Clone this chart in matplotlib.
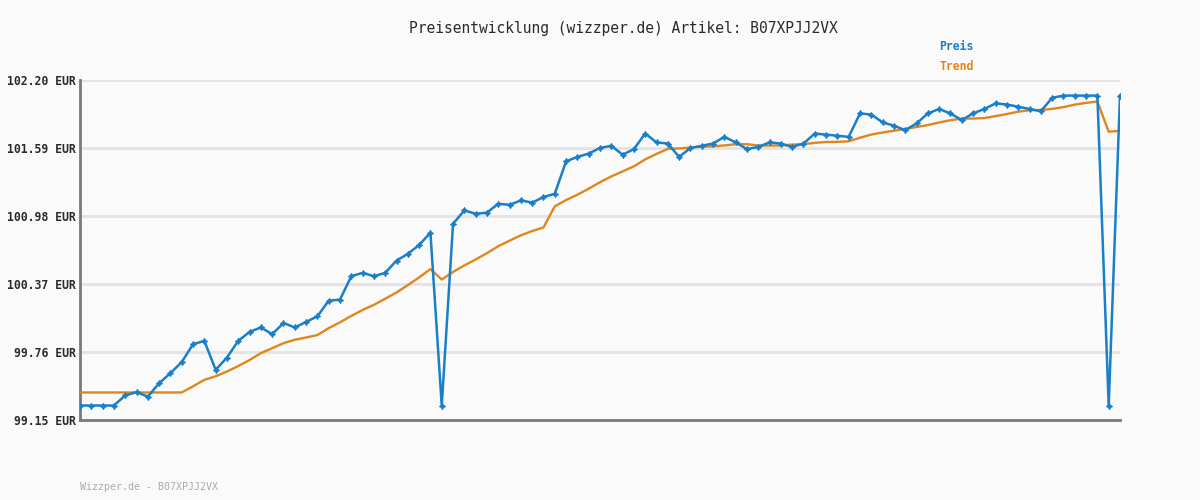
import matplotlib
matplotlib.use("Agg")
import matplotlib.pyplot as plt
from matplotlib.ticker import FixedLocator, FixedFormatter

title = "Preisentwicklung (wizzper.de) Artikel: B07XPJJ2VX"
footer = "Wizzper.de - B07XPJJ2VX"
legend_labels = ["Preis", "Trend"]
y_ticks = [99.15, 99.76, 100.37, 100.98, 101.59, 102.20]
y_tick_labels = ["99.15 EUR", "99.76 EUR", "100.37 EUR", "100.98 EUR", "101.59 EUR", "102.20 EUR"]

preis = [
    99.28, 99.28, 99.28, 99.28, 99.37, 99.40, 99.36, 99.48, 99.57, 99.67,
    99.83, 99.86, 99.60, 99.71, 99.86, 99.94, 99.98, 99.92, 100.02, 99.98,
    100.03, 100.08, 100.22, 100.23, 100.44, 100.47, 100.44, 100.47, 100.58, 100.64,
    100.72, 100.83, 99.28, 100.91, 101.03, 101.00, 101.01, 101.09, 101.08, 101.12,
    101.10, 101.15, 101.18, 101.47, 101.51, 101.54, 101.59, 101.61, 101.53, 101.58,
    101.72, 101.64, 101.63, 101.51, 101.59, 101.61, 101.63, 101.69, 101.64, 101.58,
    101.60, 101.64, 101.63, 101.60, 101.63, 101.72, 101.71, 101.70, 101.69, 101.90,
    101.89, 101.82, 101.79, 101.75, 101.81, 101.90, 101.94, 101.90, 101.84, 101.90,
    101.94, 101.99, 101.98, 101.96, 101.94, 101.92, 102.04, 102.06, 102.06, 102.06,
    102.06, 99.28, 102.06,
]

trend = [
    99.397, 99.397, 99.397, 99.397, 99.397, 99.397, 99.397, 99.397, 99.397, 99.397,
    99.452, 99.510, 99.542, 99.585, 99.634, 99.688, 99.750, 99.794, 99.839, 99.870,
    99.890, 99.912, 99.974, 100.026, 100.084, 100.137, 100.183, 100.238, 100.294, 100.360,
    100.429, 100.504, 100.410, 100.478, 100.537, 100.590, 100.647, 100.709, 100.759, 100.807,
    100.845, 100.877, 101.067, 101.123, 101.171, 101.225, 101.283, 101.335, 101.380, 101.426,
    101.488, 101.537, 101.582, 101.586, 101.594, 101.601, 101.605, 101.613, 101.624, 101.624,
    101.612, 101.612, 101.612, 101.621, 101.625, 101.636, 101.644, 101.645, 101.650, 101.682,
    101.711, 101.729, 101.745, 101.760, 101.778, 101.796, 101.819, 101.839, 101.854, 101.854,
    101.859, 101.876, 101.895, 101.916, 101.929, 101.931, 101.941, 101.957, 101.979, 101.995,
    102.007, 101.736, 101.744,
]

blue = "#1a7fc9"
orange = "#e0861c"
bg = "#fafafa"
mono = "DejaVu Sans Mono"

fig = plt.figure(figsize=(12, 5), dpi=100, facecolor=bg)
ax = fig.add_axes([80 / 1200, 80 / 500, 1040 / 1200, 340 / 500])
ax.set_facecolor(bg)

x = list(range(len(preis)))
ax.plot(x, trend, color=orange, lw=1.7, zorder=3)
ax.plot(x, preis, color=blue, lw=1.8, marker=(4, 1, 0), ms=4.5, mew=0.7,
        mfc=blue, mec=blue, zorder=4)

ax.set_xlim(0, len(preis) - 1)
ax.set_ylim(y_ticks[0], y_ticks[-1])
ax.yaxis.set_major_locator(FixedLocator(y_ticks))
ax.yaxis.set_major_formatter(FixedFormatter(y_tick_labels))
ax.set_xticks([])
ax.grid(axis="y", color="#e3e3e3", lw=2, zorder=0)
ax.set_axisbelow(True)
ax.tick_params(axis="y", length=0, pad=3, labelsize=8.3, labelcolor="#2a2a2a")
for lab in ax.get_yticklabels():
    lab.set_fontfamily(mono)
    lab.set_fontweight("bold")
for s in ["top", "right"]:
    ax.spines[s].set_visible(False)
for s in ["left", "bottom"]:
    ax.spines[s].set_color("#7a7a7a")
    ax.spines[s].set_linewidth(2)

fig.text(623.5 / 1200, 1 - 28 / 500, title, ha="center", va="center",
         family=mono, fontsize=10.5, color="#2a2a2a")
fig.text(939 / 1200, 1 - 47 / 500, legend_labels[0], ha="left", va="center",
         family=mono, fontsize=8.3, fontweight="bold", color=blue)
fig.text(939 / 1200, 1 - 67 / 500, legend_labels[1], ha="left", va="center",
         family=mono, fontsize=8.3, fontweight="bold", color=orange)
fig.text(80 / 1200, 1 - 487 / 500, footer, ha="left", va="center",
         family=mono, fontsize=7.2, color="#aaaaaa")

fig.savefig("out.png", dpi=100, facecolor=bg)
